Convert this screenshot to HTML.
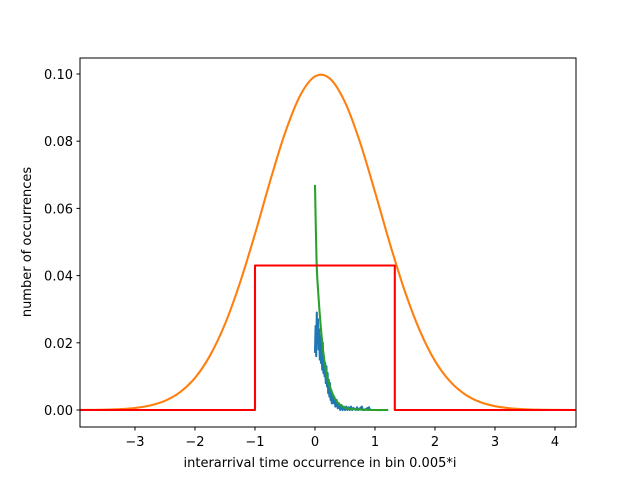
<!DOCTYPE html>
<html><head><meta charset="utf-8"><style>
body{margin:0;background:#fff}
svg text{font-family:"DejaVu Sans","Liberation Sans",sans-serif;font-size:13px;fill:#000}
</style></head><body>
<svg id="chart" width="640" height="480" viewBox="0 0 640 480">
<defs><clipPath id="clip"><rect x="80" y="58" width="496" height="369"/></clipPath></defs>
<rect x="0" y="0" width="640" height="480" fill="#fff"/>
<g id="plot" clip-path="url(#clip)"></g>
<rect x="80" y="58" width="496" height="369" fill="none" stroke="#000" stroke-width="1"/>
<g id="xticks"></g>
<g id="yticks"></g>
<text x="320" y="467" text-anchor="middle">interarrival time occurrence in bin 0.005*i</text>
<text transform="translate(31,242) rotate(-90)" text-anchor="middle">number of occurrences</text>
</svg>
<script>
const xTicks=[-3,-2,-1,0,1,2,3,4];
const yTicks=[0,0.02,0.04,0.06,0.08,0.10];
const yTickLabels=["0.00","0.02","0.04","0.06","0.08","0.10"];
const gaussX=[-4,-3.75,-3.5,-3.25,-3,-2.75,-2.5,-2.25,-2,-1.75,-1.5,-1.25,-1,-0.75,-0.5,-0.25,0,0.25,0.5,0.75,1,1.25,1.5,1.75,2,2.25,2.5,2.75,3,3.25,3.5,3.75,4,4.35];
const gaussY=[0.000013,0.000038,0.0001,0.00026,0.0006,0.00133,0.00273,0.00529,0.00955,0.0162,0.0256,0.0379,0.0524,0.0680,0.0824,0.0935,0.0993,0.0986,0.0916,0.0797,0.0649,0.0494,0.0352,0.0235,0.0146,0.00853,0.00466,0.00238,0.00114,0.00051,0.00021,0.00008,0.00003,0.000003];
const stepX=[-3.92,-1,-1,1.33,1.33,4.35];
const stepY=[0,0,0.043,0.043,0,0];
const fitX=[0,0.025,0.05,0.1,0.15,0.2,0.3,0.4,0.5,0.6,0.8,1.0,1.22];
const fitY=[0.067,0.045,0.036,0.024,0.0155,0.010,0.0045,0.0018,0.0007,0.0003,0.0001,0,0];
const histX=[0,0.01,0.02,0.03,0.04,0.05,0.06,0.07,0.08,0.09,0.10,0.11,0.12,0.13,0.14,0.15,0.16,0.17,0.18,0.19,0.20,0.21,0.22,0.23,0.24,0.25,0.26,0.27,0.28,0.29,0.30,0.32,0.34,0.36,0.38,0.40,0.42,0.44,0.46,0.48,0.50,0.52,0.54,0.56,0.58,0.60,0.62,0.64,0.68,0.70,0.72,0.78,0.80,0.82,0.90,0.92,0.94,1.0];
const histY=[0.017,0.025,0.016,0.029,0.020,0.027,0.018,0.024,0.015,0.022,0.014,0.019,0.012,0.020,0.011,0.016,0.010,0.014,0.008,0.013,0.007,0.011,0.005,0.009,0.004,0.008,0.003,0.006,0.002,0.005,0.002,0.004,0.001,0.003,0.0005,0.002,0,0.0015,0,0.001,0,0.001,0,0.0008,0,0.001,0,0.0006,0,0.0008,0,0.001,0,0,0.0008,0,0,0];
const X=v=>315+60*v, Y=v=>410-3360*v;
const NS="http://www.w3.org/2000/svg";
const plot=document.getElementById('plot');
function line(xs,ys,color,name,smooth){
  const p=document.createElementNS(NS,'path');
  let d='';
  const pts=xs.map((x,i)=>[X(x),Y(ys[i])]);
  if(smooth){
    d='M'+pts[0][0]+','+pts[0][1];
    for(let i=0;i<pts.length-1;i++){
      const p0=pts[Math.max(0,i-1)],p1=pts[i],p2=pts[i+1],p3=pts[Math.min(pts.length-1,i+2)];
      const c1=[p1[0]+(p2[0]-p0[0])/6,p1[1]+(p2[1]-p0[1])/6];
      const c2=[p2[0]-(p3[0]-p1[0])/6,p2[1]-(p3[1]-p1[1])/6];
      d+=' C'+c1+' '+c2+' '+p2;
    }
  } else d='M'+pts.map(p=>p.join(',')).join(' L');
  p.setAttribute('d',d);p.setAttribute('fill','none');p.setAttribute('stroke',color);
  p.setAttribute('stroke-width','2.08');p.setAttribute('stroke-linejoin','round');
  
  
  plot.appendChild(p);
}
line(histX,histY,'#1f77b4','histogram-series',false);
line(gaussX,gaussY,'#ff7f0e','gaussian-curve',true);
line(fitX,fitY,'#2ca02c','exponential-fit',true);
line(stepX,stepY,'#ff0000','uniform-step',false);
const xg=document.getElementById('xticks');
xTicks.forEach(t=>{
  const l=document.createElementNS(NS,'line');
  l.setAttribute('x1',X(t));l.setAttribute('x2',X(t));l.setAttribute('y1',427);l.setAttribute('y2',430.5);l.setAttribute('stroke','#000');
  
  
  xg.appendChild(l);
  const tx=document.createElementNS(NS,'text');
  tx.setAttribute('x',X(t));tx.setAttribute('y',446);tx.setAttribute('text-anchor','middle');
  tx.textContent=(t<0?'\u2212'+(-t):String(t));
  
  
  xg.appendChild(tx);
});
const yg=document.getElementById('yticks');
yTicks.forEach((t,i)=>{
  const l=document.createElementNS(NS,'line');
  l.setAttribute('x1',76.5);l.setAttribute('x2',80);l.setAttribute('y1',Y(t));l.setAttribute('y2',Y(t));l.setAttribute('stroke','#000');
  
  
  yg.appendChild(l);
  const tx=document.createElementNS(NS,'text');
  tx.setAttribute('x',73);tx.setAttribute('y',Y(t)+5);tx.setAttribute('text-anchor','end');
  tx.textContent=yTickLabels[i];
  
  
  yg.appendChild(tx);
});
</script>
</body></html>
